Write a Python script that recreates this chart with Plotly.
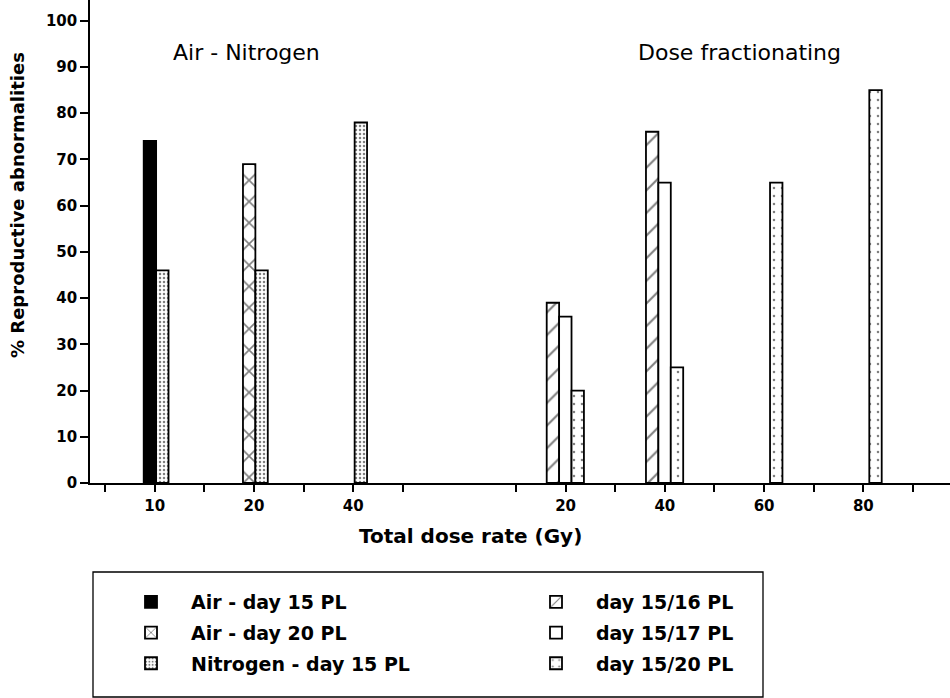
import plotly.graph_objects as go

# Dose groups (Gy)
air_nitrogen_doses = ["10", "20", "40"]
fraction_doses = ["20", "40", "60", "80"]

# % reproductive abnormalities
air_day15 = [74, None, None]
air_day20 = [None, 69, None]
nitrogen_day15 = [46, 46, 78]
day15_16 = [39, 76, None, None]
day15_17 = [36, 65, None, None]
day15_20 = [20, 25, 65, 85]

# ---- layout helpers (axis units: one unit per tick interval) ----
W, H = 950, 698
ML, MR, MT, MB = 90, 0, 0, 215
PW, PH = W - ML - MR, H - MT - MB
UNIT = 49.63
X0 = -15 / UNIT
X1 = X0 + PW / UNIT

slots1 = [1.0, 3.0, 5.0]
slots2 = [9.28, 11.28, 13.28, 15.28]
BW = 0.25

FONT = "DejaVu Sans"
BOLD = dict(family=FONT, color="black", weight="bold")


def px_x(p):
    return (p - ML) / PW


def px_y(p):
    return (MT + PH - p) / PH


fig = go.Figure()


def add_bar(name, xs, ys, offset, legend, pattern=None, color="white"):
    marker = dict(color=color, line=dict(color="black", width=1.8))
    if pattern:
        marker["pattern"] = dict(fgcolor="black", bgcolor="white", **pattern)
    fig.add_trace(go.Bar(
        name=name, x=xs, y=ys, offset=offset, width=BW,
        marker=marker, legend=legend, legendgroup=name,
        hoverinfo="x+y+name",
    ))


add_bar("Air - day 15 PL", slots1, air_day15, -0.22, "legend", color="black")
add_bar("Air - day 20 PL", slots1, air_day20, -0.22, "legend",
        pattern=dict(shape="x", size=15, solidity=0.2))
add_bar("Nitrogen - day 15 PL", slots1, nitrogen_day15, 0.03, "legend",
        pattern=dict(shape=".", size=4, solidity=0.3))
add_bar("day 15/16 PL", slots2, day15_16, -0.38, "legend2",
        pattern=dict(shape="/", size=16, solidity=0.13))
add_bar("day 15/17 PL", slots2, day15_17, -0.13, "legend2")
add_bar("day 15/20 PL", slots2, day15_20, 0.12, "legend2",
        pattern=dict(shape=".", size=8, solidity=0.08))

tickvals = list(range(0, 7)) + [8.28 + i for i in range(9)]
ticktext = []
for v in tickvals:
    if v in slots1:
        ticktext.append(air_nitrogen_doses[slots1.index(v)])
    elif round(v, 2) in slots2:
        ticktext.append(fraction_doses[slots2.index(round(v, 2))])
    else:
        ticktext.append("")

legend_common = dict(
    orientation="v", bgcolor="rgba(0,0,0,0)", borderwidth=0,
    font=dict(size=19, **BOLD), traceorder="grouped", tracegroupgap=3,
    itemwidth=70, itemclick=False, itemdoubleclick=False,
    xanchor="left", yanchor="top",
)

fig.update_layout(
    width=W, height=H,
    margin=dict(l=ML, r=MR, t=MT, b=MB),
    paper_bgcolor="white", plot_bgcolor="white",
    barmode="overlay",
    showlegend=True,
    legend=dict(x=px_x(111), y=px_y(583), **legend_common),
    legend2=dict(x=px_x(516), y=px_y(583), **legend_common),
    xaxis=dict(
        range=[X0, X1], tickmode="array", tickvals=tickvals, ticktext=ticktext,
        ticks="outside", ticklen=7, tickwidth=1.5, tickcolor="black",
        ticklabelstandoff=1,
        tickfont=dict(size=15, **BOLD),
        showline=True, linecolor="black", linewidth=1.6,
        showgrid=False, zeroline=False,
    ),
    yaxis=dict(
        range=[0, 104.5], tickmode="linear", tick0=0, dtick=10,
        ticks="outside", ticklen=8, tickwidth=1.5, tickcolor="black",
        tickfont=dict(size=15, **BOLD),
        showline=True, linecolor="black", linewidth=1.6,
        showgrid=False, zeroline=False,
    ),
    annotations=[
        dict(text="Air - Nitrogen", xref="paper", yref="paper",
             x=px_x(246), y=px_y(52), xanchor="center", yanchor="middle",
             showarrow=False, font=dict(family=FONT, size=22, color="black")),
        dict(text="Dose fractionating", xref="paper", yref="paper",
             x=px_x(739), y=px_y(52), xanchor="center", yanchor="middle",
             showarrow=False, font=dict(family=FONT, size=22, color="black")),
        dict(text="Total dose rate (Gy)", xref="paper", yref="paper",
             x=px_x(470), y=px_y(536), xanchor="center", yanchor="middle",
             showarrow=False, font=dict(size=20, **BOLD)),
        dict(text="% Reproductive abnormalities", xref="paper", yref="paper",
             x=px_x(18), y=px_y(205), xanchor="center", yanchor="middle",
             showarrow=False, textangle=-90, font=dict(size=18, **BOLD)),
    ],
    shapes=[
        dict(type="rect", xref="paper", yref="paper",
             x0=px_x(93), x1=px_x(763), y0=px_y(697), y1=px_y(572),
             line=dict(color="black", width=1.3), fillcolor="rgba(0,0,0,0)",
             layer="below"),
    ],
)

fig.write_html("out.html")
